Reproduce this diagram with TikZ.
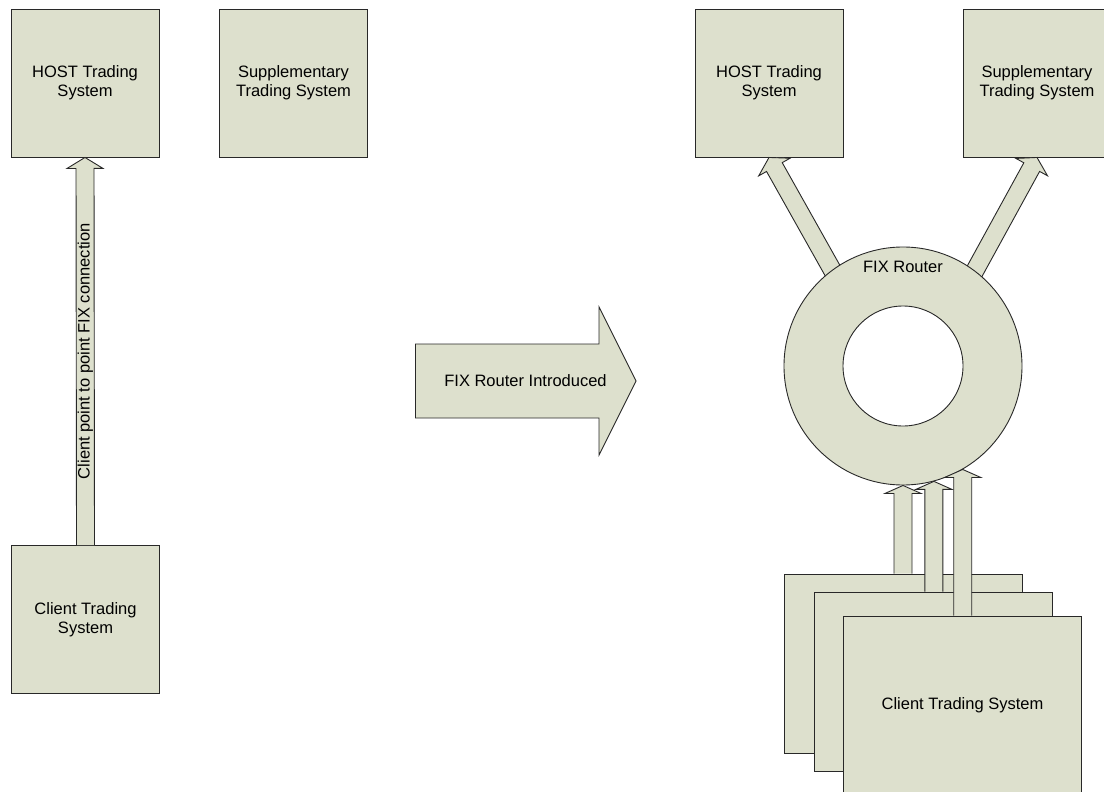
\documentclass[tikz,border=0pt]{standalone}
\usepackage{fontspec}
\setmainfont{Liberation Sans}
\usetikzlibrary{calc}
\definecolor{fixfill}{RGB}{221,224,205}
\definecolor{fixline}{RGB}{40,40,40}
\newcommand{\fixfont}{\fontsize{16.5}{19}\selectfont}
% fat block arrow: tail, tip, half shaft, half head, head length
\newcommand{\fatarrow}[5]{%
  \coordinate (fa-h) at ($(#2)!#5pt!(#1)$);
  \coordinate (fa-a) at ($(#1)!#3pt!90:(#2)$);
  \coordinate (fa-b) at ($(fa-h)!#3pt!-90:(#1)$);
  \coordinate (fa-c) at ($(fa-h)!#4pt!-90:(#1)$);
  \coordinate (fa-d) at ($(fa-h)!#4pt!90:(#1)$);
  \coordinate (fa-e) at ($(fa-h)!#3pt!90:(#1)$);
  \coordinate (fa-f) at ($(#1)!#3pt!-90:(#2)$);
  \fill[fixfill] (fa-a) -- (fa-b) -- (fa-c) -- (#2) -- (fa-d) -- (fa-e) -- (fa-f) -- cycle;
  \draw[fatline] (fa-a) -- (fa-b) -- (fa-c) -- (#2) -- (fa-d) -- (fa-e) -- (fa-f);
}
\begin{document}
\begin{tikzpicture}[x=1pt,y=-1pt,
    sysbox/.style={draw=fixline,fill=fixfill,line width=0.9pt,inner sep=0pt,
      minimum width=148pt,minimum height=148pt,align=center,font=\fixfont},
    clientbox/.style={sysbox,minimum width=238pt,minimum height=179pt},
    fatline/.style={draw=fixline,line width=0.9pt,line join=miter},
    lbl/.style={font=\fixfont,inner sep=0pt,align=center}]
  \useasboundingbox (0,0) rectangle (1104,792);
  \clip (0,0) rectangle (1104,792);

  % before
  \node[sysbox] (hostL) at (85,83) {HOST Trading\\System};
  \node[sysbox] (suppL) at (293.5,83) {Supplementary\\Trading System};
  \node[sysbox] (clL) at (85.5,619.5) {Client Trading\\System};
  \fatarrow{clL.north}{hostL.south}{9}{18}{11}
  \node[lbl,rotate=90] (p2p) at ($(clL.north)!0.5!(hostL.south)$) {Client point to point FIX connection};

  % change
  \coordinate (intro-t) at (415,381);
  \coordinate (intro-h) at (636,381);
  \fatarrow{intro-t}{intro-h}{37}{74}{37}
  \draw[fatline] (fa-a) -- (fa-f);
  \node[lbl] (intro) at ($(intro-t)!0.5!(intro-h)$) {FIX Router Introduced};

  % after
  \node[sysbox] (hostR) at (769,83) {HOST Trading\\System};
  \node[sysbox] (suppR) at (1037,83) {Supplementary\\Trading System};
  \coordinate (outL) at (853,307);
  \coordinate (outR) at (955,307);
  \fatarrow{outL}{hostR.south}{9}{18}{11}
  \fatarrow{outR}{suppR.south}{9}{18}{11}
  \node[circle,draw=fixline,fill=fixfill,line width=0.9pt,minimum size=238pt] (ring) at (903,366) {};
  \node[circle,draw=fixline,fill=white,line width=0.9pt,minimum size=120pt] (hole) at (ring.center) {};
  \node[lbl] (router) at ($(ring.north)+(0,20)$) {FIX Router};

  \node[clientbox] (clC1) at (903,663.5) {};
  \coordinate (up1) at (ring.south |- clC1.north);
  \fatarrow{up1}{ring.south}{9}{18}{8}
  \node[clientbox] (clC2) at (933,681.5) {};
  \coordinate (up2) at (ring.-75 |- clC2.north);
  \fatarrow{up2}{ring.-75}{9}{18}{8}
  \node[clientbox] (clC3) at (962.5,705.5) {Client Trading System};
  \coordinate (up3) at (ring.-60 |- clC3.north);
  \fatarrow{up3}{ring.-60}{9}{18}{8}
\end{tikzpicture}
\end{document}
